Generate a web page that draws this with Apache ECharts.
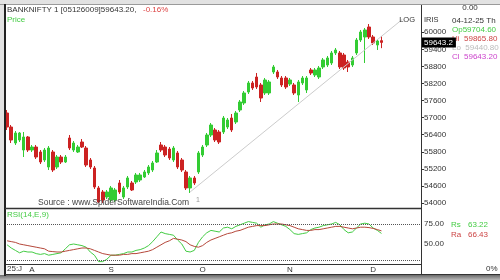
<!DOCTYPE html>
<html><head><meta charset="utf-8">
<script src="https://cdn.jsdelivr.net/npm/echarts@6/dist/echarts.min.js"></script>
<style>html,body{margin:0;padding:0;background:#fff}#c{width:500px;height:280px}</style>
</head><body><div id="c"></div>
<script>
const dates = ['07-24','07-25','07-28','07-29','07-30','07-31',
'08-01','08-04','08-05','08-06','08-07','08-08','08-11','08-12','08-13','08-14','08-18','08-19','08-20','08-21','08-22','08-25','08-26','08-28','08-29',
'09-01','09-02','09-03','09-04','09-05','09-08','09-09','09-10','09-11','09-12','09-15','09-16','09-17','09-18','09-19','09-22','09-23','09-24','09-25','09-26','09-29','09-30',
'10-01','10-03','10-06','10-07','10-08','10-09','10-10','10-13','10-14','10-15','10-16','10-17','10-20','10-21','10-23','10-24','10-27','10-28','10-29','10-30','10-31',
'11-03','11-04','11-06','11-07','11-10','11-11','11-12','11-13','11-14','11-17','11-18','11-19','11-20','11-21','11-24','11-25','11-26','11-27','11-28',
'12-01','12-02','12-03','12-04','12-05','12-08','12-09','12-10','12-11','12-12','12-15','12-16','12-17'];
const monthStarts = ['08-01','09-01','10-01','11-03','12-02'];
const monthLetters = ['A','S','O','N','D'];
const priceTicks = {min:54000, max:60500, step:600};
const opens = [57162,56670,56108,56213,55862,56319,55862,55967,55792,55511,55265,55792,55265,55616,55441,56284,55862,55792,56143,55932,55511,55230,54528,54387,54211,54105,54105,54703,54211,54563,54703,54738,54808,54914,55055,55160,55441,56038,55967,55897,55511,55757,55511,55090,54528,54879,55090,55686,56038,56389,56565,56495,56495,56670,56986,56846,57268,57514,57900,58217,58427,58146,57865,57865,58603,58603,58392,58392,58181,58146,57795,58217,57971,58673,58498,58427,58779,58849,58919,59271,59271,59200,58954,58849,59271,59727,59833,60184,59833,59552,59704.6];
const highs = [57268,56741,56530,56495,56495,56354,56038,56038,55862,55932,56002,55862,55686,55686,55686,56389,56178,56038,56248,56002,55581,55300,54598,54457,54457,54598,54528,54808,54598,54949,54773,55055,55055,55160,55335,55476,55862,56143,56038,55967,56002,55827,55581,55160,54949,54949,55827,56038,56460,56811,56635,56565,57057,56986,57127,57233,57619,57935,58287,58287,58568,58217,58392,58322,58849,58673,58462,58462,58392,58217,58322,58462,58462,58743,58743,58814,59095,59165,59341,59446,59341,59271,59025,59165,59798,60079,60149,60289,59903,59763,59865.8];
const lows = [56565,56108,56038,56143,55616,55792,55792,55546,55370,55441,55160,55090,55195,55370,55406,55862,55792,55757,55932,55265,55195,54492,54000,54000,54141,54035,54035,54317,54141,54492,54422,54668,54738,54879,54984,55090,55406,55792,55616,55511,55441,55195,55090,54457,54352,54633,55020,55616,55967,56319,56143,56073,56424,56600,56495,56776,57197,57444,57830,57971,58006,57549,57795,57795,58533,58357,58076,58006,58111,57795,57549,58146,57865,58498,58427,58357,58708,58779,58849,59200,58708,58673,58603,58779,59200,59657,58919,59763,59552,59376,59440.8];
const closes = [56670,56213,56460,56460,56319,55862,55967,55616,55441,55862,55932,55160,55616,55441,55616,55932,56108,55967,55967,55335,55265,54563,54035,54105,54387,54528,54457,54387,54528,54879,54457,54984,54984,55090,55265,55406,55757,55862,55686,55581,55932,55265,55160,54528,54879,54703,55757,55967,56389,56741,56213,56143,56986,56916,56565,57162,57549,57865,58217,58041,58076,57689,58322,58252,58779,58427,58146,58076,58322,57865,58252,58392,58392,58568,58673,58743,59025,59095,59271,59376,58779,58743,58779,59095,59727,60008,60079,59833,59622,59692,59643.2];
const rsi = [49,45,42,39,41,40,40,38,37,38,36,37,38,39,44,49,50,49,48,46,40,36,28,28,31,36,36,37,38,40,40,42,43,45,48,53,59,65,63,62,61,55,50,41,40,42,52,59,64,67,66,65,70,71,69,72,74,76,78,77,76,71,74,75,78,76,74,72,68,63,62,63,64,68,70,71,73,74,75,77,74,68,64,65,70,75,76,75,70,67,63.22];
const rsiAvg = [54,53,52,50,49,48,47,46,45,44,41,40.5,40,40,41,42,43,44,45,45,44,42,40,38,37,36,36,36,37,37,38,38,39,40,41,43,46,49,52,54,57,56,55,53,49,47,46,48,52,55,57,59,61,63,64,66,67,69,71,72,73,73,73,74,75,75,75,74,73,71,69,68,67,67,68,68,69,70,71,72,72,71,70,69,70,71,71,70.5,69.5,68,66.43];
const rsiLevels = [75, 30];
const trendFrom = [44, 54387];
const trendTo = [95, 60451];
const changePct = '-0.16%';

const last = closes.length - 1;
const F = "'Liberation Sans', Arial, sans-serif";
const candleData = opens.map((o, i) => [o, closes[i], lows[i], highs[i]]);
const fmt2 = v => v.toFixed(2);

function txt(x, y, text, fill, size, align) {
  return {type:'text', x:x, y:y, z:100, silent:true,
    style:{text:text, fill:fill, fontSize:size||8, fontFamily:F, align:align||'left', verticalAlign:'middle'}};
}
function line(x1,y1,x2,y2,color,w) {
  return {type:'line', z:50, silent:true, shape:{x1:x1,y1:y1,x2:x2,y2:y2}, style:{stroke:color, lineWidth:w||1}};
}

const chart = echarts.init(document.getElementById('c'), null, {renderer:'canvas'});
const graphics = [
    {type:'rect', z:-1, silent:true, shape:{x:5, y:5, width:495, height:270}, style:{fill:'#ffffff'}},
    {type:'rect', z:-1, silent:true, shape:{x:0, y:275, width:500, height:5},
     style:{fill:new echarts.graphic.LinearGradient(0,0,0,1,[{offset:0,color:'#6a6a6a'},{offset:1,color:'#b8b8b8'}])}},
    line(0, 4.5, 500, 4.5, '#9a9a9a', 1),
    line(5, 4, 5, 276, '#222', 2),
    line(421.5, 5, 421.5, 275, '#333', 1),
    line(5, 208.5, 421.5, 208.5, '#333', 1.5),
    line(5, 274.5, 500, 274.5, '#333', 1),
    txt(7, 10, 'BANKNIFTY 1 [05126009]' + closes[last].toFixed(2) + ',', '#333', 8),
    txt(143, 10, changePct, '#dd4444', 8),
    txt(7, 20, 'Price', '#44cc44', 8),
    txt(38, 203, 'Source : www.SpiderSoftwareIndia.Com', '#444', 8.5),
    txt(196, 200, '1', '#999', 7),
    txt(7, 215, 'RSI(14,E,9)', '#44cc44', 8),
    txt(7, 269, '25:J', '#333', 8),
    txt(415, 20, 'LOG', '#333', 7.5, 'right'),
    txt(470, 8, '0.00', '#333', 8, 'center'),
    txt(424, 20, 'IRIS', '#333', 7.5),
    txt(452, 21, '04-12-25 Th', '#333', 8),
    txt(452, 30, 'Op' + opens[last].toFixed(2), '#44cc44', 8),
    txt(452, 39, 'Hi  ' + highs[last].toFixed(2), '#cc4444', 8),
    txt(452, 48, 'Lo  ' + lows[last].toFixed(2), '#bbbbbb', 8),
    txt(452, 57, 'Cl  ' + closes[last].toFixed(2), '#cc44cc', 8),
    txt(451, 225, 'Rs', '#44cc44', 8),
    txt(468, 225, fmt2(rsi[last]), '#44cc44', 8),
    txt(451, 235, 'Ra', '#cc4444', 8),
    txt(468, 235, fmt2(rsiAvg[last]), '#cc4444', 8),
    txt(486, 269, '0%', '#333', 8)
];
chart.setOption({
  animation:false,
  backgroundColor:'#e2e2e2',
  textStyle:{fontFamily:F},
  grid:[
    {left:5, right:79, top:18, height:185},
    {left:5, right:79, top:208, height:56}
  ],
  xAxis:[
    {type:'category', gridIndex:0, data:dates, boundaryGap:true, show:false},
    {type:'category', gridIndex:1, data:dates, boundaryGap:true,
     axisLine:{show:true, lineStyle:{color:'#333', width:1}}, axisTick:{show:false},
     axisLabel:{interval:(i, v) => monthStarts.indexOf(v) >= 0,
       formatter:(v) => monthLetters[monthStarts.indexOf(v)] || '',
       fontSize:8, color:'#333', margin:2, fontFamily:F}}
  ],
  yAxis:[
    {type:'value', gridIndex:0, position:'right', min:priceTicks.min, max:priceTicks.max, interval:priceTicks.step,
     axisLine:{show:false}, splitLine:{show:false},
     axisTick:{show:true, length:3, lineStyle:{color:'#333'}},
     axisLabel:{show:true, showMaxLabel:false, formatter:v => String(v), fontSize:8, color:'#333', margin:3, fontFamily:F}},
    {type:'value', gridIndex:1, position:'right', min:25, max:95, interval:25,
     axisLine:{show:false}, splitLine:{show:false},
     axisTick:{show:false},
     axisLabel:{showMinLabel:false, showMaxLabel:false, formatter:v => (v===50||v===75)?fmt2(v):'', fontSize:8, color:'#333', margin:3, fontFamily:F}}
  ],
  series:[
    {type:'candlestick', xAxisIndex:0, yAxisIndex:0, data:candleData, barWidth:3,
     itemStyle:{color:'#33cc33', color0:'#cc2222', borderColor:'#33cc33', borderColor0:'#cc2222', borderWidth:1},
     markLine:{silent:true, symbol:['none','none'], animation:false, label:{show:false},
       data:[
         [{coord:[dates[trendFrom[0]], trendFrom[1]], lineStyle:{color:'#cccccc', width:1, type:'solid'}},
          {coord:[dates[trendTo[0]], trendTo[1]]}]
       ]}
    },
    {type:'line', xAxisIndex:1, yAxisIndex:1, data:rsi, showSymbol:false, lineStyle:{color:'#44cc44', width:1}, z:3,
     markLine:{silent:true, symbol:['none','none'], animation:false, label:{show:false},
       lineStyle:{color:'#555', type:'dotted', width:1},
       data:rsiLevels.map(v => ({yAxis:v}))}},
    {type:'line', xAxisIndex:1, yAxisIndex:1, data:rsiAvg, showSymbol:false, lineStyle:{color:'#b5473a', width:1}, z:4}
  ],
  graphic:graphics
});
// last-close marker on the price axis, placed through the library's own scale
const py = chart.convertToPixel({yAxisIndex:0}, closes[last]);
graphics.push({type:'text', x:422, y:py, z:120, silent:true,
  style:{text:String(closes[last]), fill:'#fff', fontSize:8, fontFamily:F, align:'left', verticalAlign:'middle',
         backgroundColor:'#000', padding:[1,3,1,2]}});
chart.setOption({graphic:graphics}, {replaceMerge:['graphic']});
</script>
</body></html>
